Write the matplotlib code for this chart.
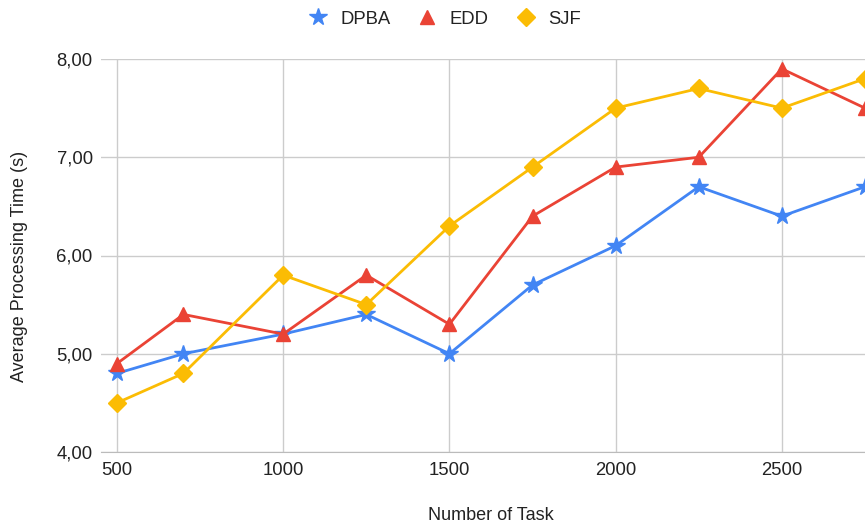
import matplotlib.pyplot as plt
from matplotlib.ticker import FuncFormatter

plt.rcParams['font.family'] = ['Liberation Sans', 'DejaVu Sans']

# Data
tasks = [500, 700, 1000, 1250, 1500, 1750, 2000, 2250, 2500, 2750]
dpba = [4.8, 5.0, 5.2, 5.4, 5.0, 5.7, 6.1, 6.7, 6.4, 6.7]
edd = [4.9, 5.4, 5.2, 5.8, 5.3, 6.4, 6.9, 7.0, 7.9, 7.5]
sjf = [4.5, 4.8, 5.8, 5.5, 6.3, 6.9, 7.5, 7.7, 7.5, 7.8]

fig = plt.figure(figsize=(8.65, 5.24), dpi=100)
ax = fig.add_axes([101 / 865, 1 - 452 / 524, 1 - 101 / 865, (452 - 59) / 524])

ax.plot(tasks, dpba, color='#4285F4', lw=2, marker='*', ms=13, label='DPBA')
ax.plot(tasks, edd, color='#EA4335', lw=2, marker='^', ms=10, label='EDD')
ax.plot(tasks, sjf, color='#FBBC04', lw=2, marker='D', ms=9.5, label='SJF')

ax.set_xlim(452, 2750)
ax.set_ylim(4, 8)
ax.set_xticks([500, 1000, 1500, 2000, 2500])
ax.set_yticks([4, 5, 6, 7, 8])
ax.yaxis.set_major_formatter(FuncFormatter(lambda v, p: f'{v:.2f}'.replace('.', ',')))

ax.grid(True, color='#cccccc', lw=1)
ax.set_axisbelow(True)
for s in ['top', 'right', 'left']:
    ax.spines[s].set_visible(False)
ax.spines['bottom'].set_color('#bbbbbb')
ax.tick_params(axis='y', length=0, labelsize=13.3, labelcolor='#222222', pad=6)
ax.tick_params(axis='x', length=0, labelsize=13.3, labelcolor='#222222', pad=7)

ax.set_xlabel('Number of Task', fontsize=13, color='#222222')
ax.xaxis.set_label_coords(0.51, -0.14)
ax.set_ylabel('Average Processing Time (s)', fontsize=13, color='#222222')
ax.yaxis.set_label_coords(-0.0955, 0.473)

fig.legend(loc='center', bbox_to_anchor=(0.513, 1 - 19 / 524), ncol=3, frameon=False,
           fontsize=13.3, handlelength=1.2, columnspacing=1.4, handletextpad=0.6,
           labelcolor='#222222')
for h in fig.legends[0].legend_handles:
    h.set_linestyle('None')

fig.savefig('out.png', dpi=100)
